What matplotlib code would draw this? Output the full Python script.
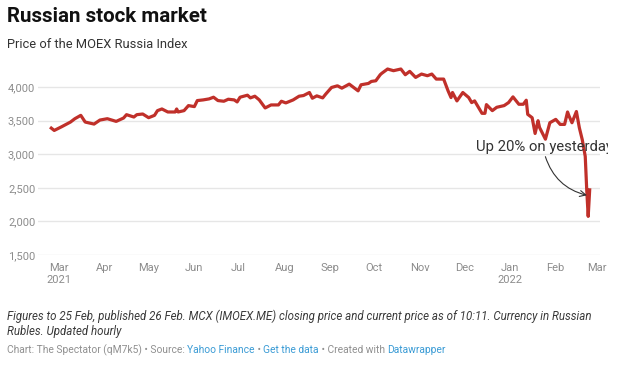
import numpy as np
import pandas as pd
import matplotlib
matplotlib.use("Agg")
import matplotlib.pyplot as plt
from matplotlib.transforms import Bbox

plt.rcParams['font.family'] = ['Roboto', 'DejaVu Sans']

# MOEX index
dates = ["2021-02-24", "2021-02-26", "2021-03-03", "2021-03-09", "2021-03-12", "2021-03-16", "2021-03-19", "2021-03-25", "2021-03-29", "2021-04-03",
         "2021-04-09", "2021-04-14", "2021-04-16", "2021-04-21", "2021-04-23", "2021-04-27", "2021-05-01", "2021-05-05", "2021-05-07", "2021-05-10",
         "2021-05-14", "2021-05-19", "2021-05-20", "2021-05-21", "2021-05-25", "2021-05-28", "2021-06-01", "2021-06-03", "2021-06-07", "2021-06-11",
         "2021-06-14", "2021-06-17", "2021-06-21", "2021-06-24", "2021-06-28", "2021-06-30", "2021-07-02", "2021-07-07", "2021-07-09", "2021-07-12",
         "2021-07-15", "2021-07-19", "2021-07-23", "2021-07-28", "2021-07-30", "2021-08-02", "2021-08-07", "2021-08-11", "2021-08-14", "2021-08-18",
         "2021-08-20", "2021-08-23", "2021-08-27", "2021-08-29", "2021-09-02", "2021-09-06", "2021-09-09", "2021-09-14", "2021-09-20", "2021-09-22",
         "2021-09-27", "2021-09-29", "2021-10-02", "2021-10-05", "2021-10-06", "2021-10-10", "2021-10-14", "2021-10-19", "2021-10-22", "2021-10-25",
         "2021-10-29", "2021-11-02", "2021-11-06", "2021-11-09", "2021-11-12", "2021-11-17", "2021-11-20", "2021-11-22", "2021-11-23", "2021-11-26",
         "2021-11-30", "2021-12-04", "2021-12-06", "2021-12-08", "2021-12-13", "2021-12-15", "2021-12-16", "2021-12-20", "2021-12-23", "2021-12-28",
         "2021-12-31", "2022-01-03", "2022-01-07", "2022-01-10", "2022-01-12", "2022-01-13", "2022-01-16", "2022-01-18", "2022-01-20", "2022-01-21",
         "2022-01-25", "2022-01-28", "2022-02-01", "2022-02-04", "2022-02-07", "2022-02-09", "2022-02-10", "2022-02-12", "2022-02-15", "2022-02-17",
         "2022-02-19", "2022-02-21", "2022-02-22", "2022-02-23", "2022-02-24"]
values = [3390, 3355, 3410, 3480, 3530, 3580, 3480, 3450, 3510, 3530,
          3490, 3540, 3590, 3555, 3590, 3600, 3545, 3580, 3650, 3675,
          3630, 3630, 3675, 3630, 3650, 3725, 3710, 3800, 3810, 3825,
          3850, 3800, 3790, 3820, 3810, 3780, 3850, 3880, 3840, 3865,
          3810, 3690, 3735, 3735, 3790, 3765, 3810, 3865, 3875, 3920,
          3835, 3870, 3840, 3895, 3995, 4020, 3985, 4045, 3945, 4035,
          4055, 4085, 4095, 4185, 4205, 4270, 4245, 4270, 4185, 4235,
          4145, 4195, 4170, 4195, 4120, 4120, 3945, 3845, 3920, 3795,
          3920, 3845, 3770, 3795, 3610, 3610, 3740, 3650, 3700, 3725,
          3770, 3855, 3745, 3745, 3805, 3595, 3545, 3310, 3500, 3400,
          3225, 3470, 3520, 3445, 3445, 3630, 3570, 3470, 3637, 3395,
          3215, 2968, 2470, 2075, 2470]

yticks = [1500, 2000, 2500, 3000, 3500, 4000]
month_ticks = pd.date_range("2021-03-01", "2022-03-01", freq="MS")

W, H = 620, 368
fig = plt.figure(figsize=(W / 100, H / 100), dpi=100)
ax = fig.add_axes([38 / W, 1 - 255 / H, (600 - 38) / W, (255 - 67) / H])

x = pd.to_datetime(dates)
ax.plot(x, values, color="#c0302a", lw=2.3, solid_joinstyle="round", zorder=3)

ax.set_xlim(pd.Timestamp("2021-02-15"), pd.Timestamp("2022-03-03"))
ax.set_ylim(1500, 4300)

ax.set_yticks(yticks)
ax.set_yticklabels([f"{v:,}" for v in yticks])
ax.grid(axis="y", color="#e6e6e6", lw=1, zorder=0)

ax.set_xticks(month_ticks)
labels = []
for d in month_ticks:
    if d.month == 3 and d.year == 2021:
        labels.append("Mar\n2021")
    elif d.month == 1:
        labels.append("Jan\n2022")
    else:
        labels.append(d.strftime("%b"))
ax.set_xticklabels(labels, linespacing=1.25)

ax.tick_params(axis="both", length=0, labelsize=8, labelcolor="#8c8c8c")
ax.tick_params(axis="y", pad=2)
ax.tick_params(axis="x", pad=6)
for s in ax.spines.values():
    s.set_visible(False)

# annotation (cut off on the right like the original)
ann = ax.annotate("Up 20% on yesterday", xy=(pd.Timestamp("2022-02-24"), 2380),
                  xytext=(pd.Timestamp("2021-12-09"), 3110),
                  fontsize=10.7, color="#333333", va="center", ha="left",
                  annotation_clip=False,
                  arrowprops=dict(arrowstyle="->", color="#333333", lw=0.8,
                                  shrinkA=0, shrinkB=2,
                                  relpos=(0.5, 0.0),
                                  connectionstyle="arc3,rad=0.3"))
ann.set_clip_on(True)
ann.set_clip_box(Bbox([[0, 0], [608, H]]))

# header
fig.text(7 / W, 1 - 17 / H, "Russian stock market", fontsize=14.8,
         fontweight="bold", color="#111111", va="center")
fig.text(7 / W, 1 - 45 / H, "Price of the MOEX Russia Index", fontsize=9.3,
         color="#333333", va="center")

# notes
fig.text(7 / W, 1 - 323.7 / H,
         "Figures to 25 Feb, published 26 Feb. MCX (IMOEX.ME) closing price and current price as of 10:11. Currency in Russian\nRubles. Updated hourly",
         fontsize=8.3, style="italic", color="#3a3a3a", va="center", linespacing=1.25)

parts = [("Chart: The Spectator (qM7k5) • Source: ", "#909090"),
         ("Yahoo Finance", "#3a9bd5"),
         (" • ", "#909090"),
         ("Get the data", "#3a9bd5"),
         (" • Created with ", "#909090"),
         ("Datawrapper", "#3a9bd5")]
texts = [fig.text(0, 0, txt, fontsize=7.4, color=col, va="center") for txt, col in parts]

# chain the credit pieces left to right
fig.canvas.draw()
renderer = fig.canvas.get_renderer()
x_px = 7
for t in texts:
    t.set_position((x_px / W, 1 - 350 / H))
    x_px += t.get_window_extent(renderer).width

fig.savefig("out.png", dpi=100)
